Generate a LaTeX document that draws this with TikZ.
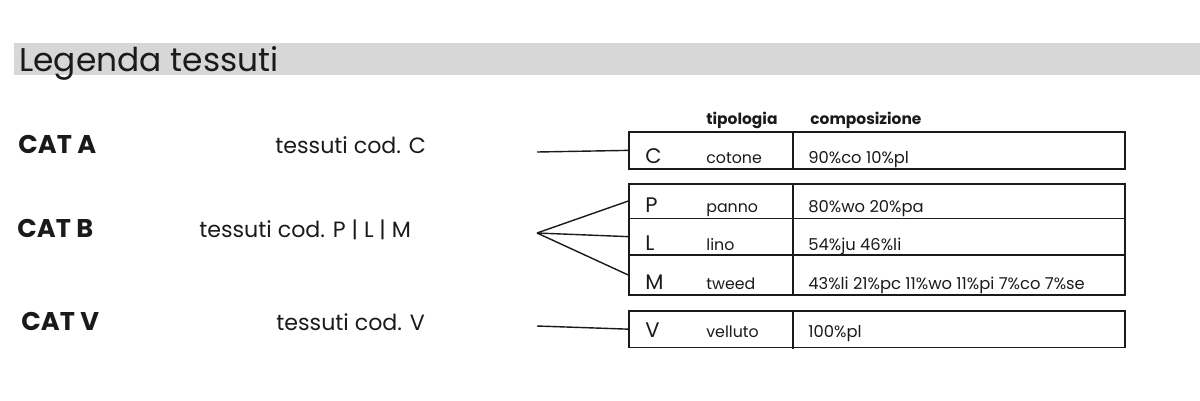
\documentclass[tikz,border=0pt]{standalone}
\usepackage{fontspec}
\setmainfont{Poppins}
\usetikzlibrary{positioning}
\definecolor{fascia}{HTML}{D7D7D7}
\definecolor{inchiostro}{HTML}{1A1A1A}
\begin{document}
\begin{tikzpicture}[x=0.02cm,y=-0.02cm,inchiostro,
    cat/.style={anchor=base west,font=\fontsize{14.6}{17}\selectfont\bfseries},
    cod/.style={anchor=base west,font=\fontsize{12.6}{15}\selectfont},
    sigla/.style={anchor=base west,font=\fontsize{12}{14}\selectfont},
    voce/.style={anchor=base west,font=\fontsize{9}{11}\selectfont},
    comp/.style={anchor=base west,font=\fontsize{9.3}{11}\selectfont},
    testa/.style={anchor=base west,font=\fontsize{8.8}{11}\selectfont\bfseries},
    riga/.style={draw,line width=1pt,inner sep=0pt,anchor=north west,minimum width=9.92cm}]
  \useasboundingbox (0,0) rectangle (1200,400);
  \fill[fascia] (14,43) rectangle (1200,75);
  \draw (19,71) node[anchor=base west,inner sep=0pt,font=\fontsize{18.7}{22}\selectfont] (titolo) {Legenda tessuti};

  \draw (18,153) node[cat,inner sep=0pt] (catA) {CAT A};
  \draw (17,237) node[cat,inner sep=0pt] (catB) {CAT B};
  \draw (21,330) node[cat,inner sep=0pt] (catV) {CAT V};
  \draw (275,153) node[cod,inner sep=0pt] (codA) {tessuti cod. C};
  \draw (199,237) node[cod,inner sep=0pt] (codB) {tessuti cod. P | L | M};
  \draw (276,330) node[cod,inner sep=0pt] (codV) {tessuti cod. V};

  \draw (706,124) node[testa,inner sep=0pt] (tipologia) {tipologia};
  \draw (810,124) node[testa,inner sep=0pt] (composizione) {composizione};

  \draw (628,131) node[riga,minimum height=0.74cm] (rigaC) {};
  \draw (628,183) node[riga,minimum height=0.69cm] (rigaP) {};
  \draw (628,217.5) node[riga,minimum height=0.73cm] (rigaL) {};
  \draw (628,254) node[riga,minimum height=0.8cm] (rigaM) {};
  \draw (628,310) node[riga,minimum height=0.73cm] (rigaV) {};
  \draw[line width=1pt] (793,131) -- (793,170);
  \draw[line width=1pt] (793,183) -- (793,296);
  \draw[line width=1pt] (793,310) -- (793,349);

  \draw (645,163) node[sigla,inner sep=0pt] (C) {C};
  \draw (706,163) node[voce,inner sep=0pt] (cotone) {cotone};
  \draw (808,163) node[comp,inner sep=0pt] (compC) {90\%co 10\%pl};
  \draw (645,212) node[sigla,inner sep=0pt] (P) {P};
  \draw (706,212) node[voce,inner sep=0pt] (panno) {panno};
  \draw (808,212) node[comp,inner sep=0pt] (compP) {80\%wo 20\%pa};
  \draw (645,250) node[sigla,inner sep=0pt] (L) {L};
  \draw (706,250) node[voce,inner sep=0pt] (lino) {lino};
  \draw (808,250) node[comp,inner sep=0pt] (compL) {54\%ju 46\%li};
  \draw (645,289) node[sigla,inner sep=0pt] (M) {M};
  \draw (706,289) node[voce,inner sep=0pt] (tweed) {tweed};
  \draw (808,289) node[comp,inner sep=0pt] (compM) {43\%li 21\%pc 11\%wo 11\%pi 7\%co 7\%se};
  \draw (645,337) node[sigla,inner sep=0pt] (V) {V};
  \draw (706,337) node[voce,inner sep=0pt] (velluto) {velluto};
  \draw (808,337) node[comp,inner sep=0pt] (compV) {100\%pl};

  \coordinate (fineA) at (537,152);
  \coordinate (fineB) at (537,233);
  \coordinate (fineV) at (537,326);
    \path[-,line width=0.8pt] (fineA) edge (rigaC.west);
    \path[-,line width=0.8pt] (fineB) edge (rigaP.west);
    \path[-,line width=0.8pt] (fineB) edge (rigaL.west);
    \path[-,line width=0.8pt] (fineB) edge (rigaM.west);
    \path[-,line width=0.8pt] (fineV) edge (rigaV.west);
\end{tikzpicture}
\end{document}
